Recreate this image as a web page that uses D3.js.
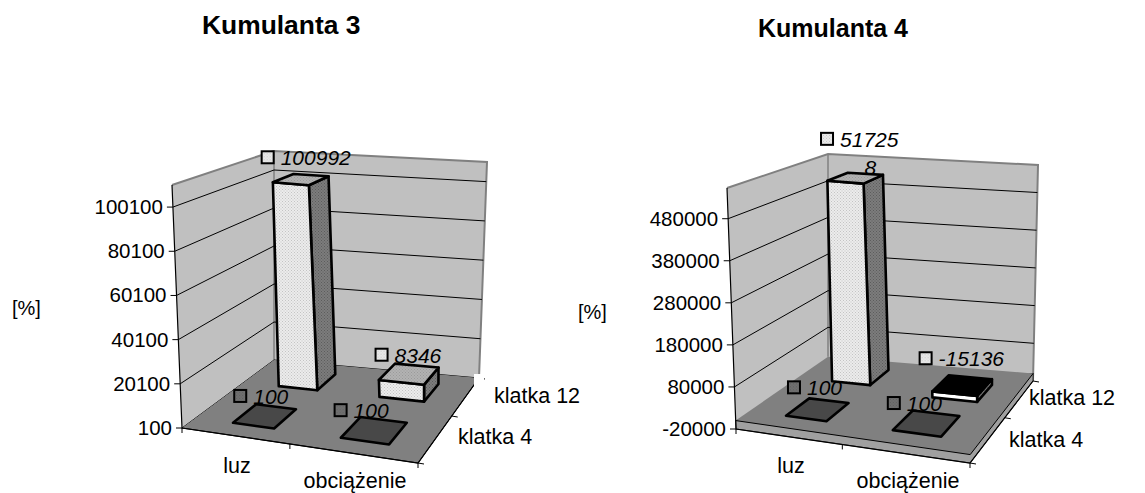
<!DOCTYPE html>
<html>
<head>
<meta charset="utf-8">
<script src="https://cdn.jsdelivr.net/npm/d3@7"></script>
<style>
    html, body { margin: 0; padding: 0; background: #fff; }
    text { font-family: "Liberation Sans", Arial, sans-serif; fill: #000; }
</style>
</head>
<body>
<svg id="plot" width="1145" height="493"></svg>
<script>
// values
var categories = ['luz', 'obciążenie'];
var rows = ['klatka 4', 'klatka 12'];

var k3Ticks = [100, 20100, 40100, 60100, 80100, 100100];
var k3Klatka4 = [100, 100];
var k3Klatka12 = [100992, 8346];

var k4Ticks = [-20000, 80000, 180000, 280000, 380000, 480000];
var k4Klatka4 = [100, 100];
var k4Klatka12 = [517258, -15136];

var svg = d3.select('#plot');

// dotted fills of the bars
var defs = svg.append('defs');
function addPattern(id, bg, dot) {
    var p = defs.append('pattern').attr('id', id)
        .attr('width', 3).attr('height', 3).attr('patternUnits', 'userSpaceOnUse');
    p.append('rect').attr('width', 3).attr('height', 3).attr('fill', bg);
    p.append('rect').attr('width', 1).attr('height', 1).attr('fill', dot);
    p.append('rect').attr('x', 1.5).attr('y', 1.5).attr('width', 1).attr('height', 1).attr('fill', dot);
}
addPattern('lightDots', '#ececec', '#c4c4c4');
addPattern('sideDots', '#7c7c7c', '#5c5c5c');
addPattern('topDots', '#b2b2b2', '#9a9a9a');
addPattern('greyDots', '#707070', '#5e5e5e');

// square -> quad mapping, corners go front-left, front-right, back-right, back-left
function homography(q) {
    var dx1 = q[1][0] - q[2][0], dx2 = q[3][0] - q[2][0], sx = q[0][0] - q[1][0] + q[2][0] - q[3][0];
    var dy1 = q[1][1] - q[2][1], dy2 = q[3][1] - q[2][1], sy = q[0][1] - q[1][1] + q[2][1] - q[3][1];
    var den = dx1 * dy2 - dx2 * dy1;
    var g = (sx * dy2 - dx2 * sy) / den;
    var h = (dx1 * sy - sx * dy1) / den;
    var a = q[1][0] - q[0][0] + g * q[1][0], b = q[3][0] - q[0][0] + h * q[3][0];
    var d = q[1][1] - q[0][1] + g * q[1][1], e = q[3][1] - q[0][1] + h * q[3][1];
    return function (u, v) {
        var w = g * u + h * v + 1;
        return [(a * u + b * v + q[0][0]) / w, (d * u + e * v + q[0][1]) / w];
    };
}

function quad(pts) {
    return 'M' + pts.map(function (p) { return p[0] + ',' + p[1]; }).join('L') + 'Z';
}

function drawChart(o) {
    var g = svg.append('g');
    var bottom = homography(o.bottom), top = homography(o.top);

    var zScale = d3.scaleLinear().domain(o.domain).range([0, 1]);
    var xScale = d3.scaleBand().domain(categories).range([0.04, 1]).paddingInner(0.6).paddingOuter(0.3);
    var yScale = d3.scaleBand().domain(rows).range([0, 1]).paddingInner(0.52).paddingOuter(0.26);

    // x, depth in 0..1, value on the y axis
    function project(u, v, value) {
        var t = zScale(value), a = bottom(u, v), b = top(u, v);
        return [a[0] + (b[0] - a[0]) * t, a[1] + (b[1] - a[1]) * t];
    }

    var zMin = o.domain[0], zMax = o.domain[1], floor = o.floor;

    // walls
    g.append('path').attr('d', quad([project(0, 0, zMin), project(0, 0, zMax), project(0, 1, zMax), project(0, 1, zMin)]))
        .attr('fill', '#c0c0c0');
    g.append('path').attr('d', quad([project(0, 1, zMin), project(0, 1, zMax), project(1, 1, zMax), project(1, 1, zMin)]))
        .attr('fill', '#c0c0c0');
    g.append('path').attr('d', d3.line()([project(0, 0, zMax), project(0, 1, zMax), project(1, 1, zMax), project(1, 1, zMin)]))
        .attr('fill', 'none').attr('stroke', '#808080').attr('stroke-width', 2);
    g.append('path').attr('d', d3.line()([project(0, 1, zMax), project(0, 1, floor)]))
        .attr('fill', 'none').attr('stroke', '#808080').attr('stroke-width', 1.5);

    // gridlines and value axis
    o.ticks.forEach(function (t) {
        g.append('path').attr('d', d3.line()([project(0, 0, t), project(0, 1, t), project(1, 1, t)]))
            .attr('fill', 'none').attr('stroke', '#000').attr('stroke-width', 1);
        var p = project(0, 0, t);
        g.append('line').attr('x1', p[0] - 6).attr('x2', p[0]).attr('y1', p[1]).attr('y2', p[1])
            .attr('stroke', '#000');
        g.append('text').attr('x', p[0] - 10).attr('y', p[1] + 7).attr('text-anchor', 'end')
            .attr('font-size', 20.5).text(t);
    });

    // floor plate
    if (floor > zMin) {
        g.append('path').attr('d', quad([project(0, 0, zMin), project(1, 0, zMin), project(1, 1, zMin), project(1, 1, floor), project(0, 0, floor)]))
            .attr('fill', '#a0a0a0').attr('stroke', '#000').attr('stroke-width', 0.8);
    }
    g.append('path').attr('d', quad([project(0, 0, floor), project(1, 0, floor), project(1, 1, floor), project(0, 1, floor)]))
        .attr('fill', '#808080');
    g.append('path').attr('d', d3.line()([project(0, 0, floor), project(1, 0, floor), project(1, 1, floor)]))
        .attr('fill', 'none').attr('stroke', '#000').attr('stroke-width', 1);

    // axes along the floor
    g.append('path').attr('d', d3.line()([project(0, 0, zMax), project(0, 0, zMin), project(1, 0, zMin), project(1, 1, zMin)]))
        .attr('fill', 'none').attr('stroke', '#000').attr('stroke-width', 1.2);
    [0, 0.5, 1].forEach(function (u) {
        var p = project(u, 0, zMin);
        g.append('line').attr('x1', p[0]).attr('x2', p[0]).attr('y1', p[1]).attr('y2', p[1] + 5).attr('stroke', '#000');
    });
    [0, 0.5, 1].forEach(function (v) {
        var p = project(1, v, zMin);
        g.append('line').attr('x1', p[0]).attr('x2', p[0] + 6).attr('y1', p[1]).attr('y2', p[1] + 1).attr('stroke', '#000');
    });

    // bars, back row first
    var series = [o.values[1], o.values[0]];
    var rowNames = [rows[1], rows[0]];
    var labels = [];
    series.forEach(function (vals, r) {
        vals.forEach(function (value, c) {
            var u0 = xScale(categories[c]), u1 = u0 + xScale.bandwidth();
            var v0 = yScale(rowNames[r]), v1 = v0 + yScale.bandwidth();
            var negative = value < floor;
            var hi = negative ? floor : value, lo = negative ? value : floor;
            var flat = value === 100;
            var bar = g.append('g').attr('stroke', '#000').attr('stroke-width', 2.6).attr('stroke-linejoin', 'round');
            if (!flat) {
                bar.append('path').attr('d', quad([project(u1, v0, lo), project(u1, v1, lo), project(u1, v1, hi), project(u1, v0, hi)]))
                    .attr('fill', 'url(#sideDots)');
                bar.append('path').attr('d', quad([project(u0, v0, lo), project(u1, v0, lo), project(u1, v0, hi), project(u0, v0, hi)]))
                    .attr('fill', negative ? '#fff' : 'url(#lightDots)');
            }
            bar.append('path').attr('d', quad([project(u0, v0, hi), project(u1, v0, hi), project(u1, v1, hi), project(u0, v1, hi)]))
                .attr('fill', flat ? '#484848' : (negative ? '#000' : 'url(#topDots)'));
            labels.push({value: value, c: c, r: r, at: project((u0 + u1) / 2, (v0 + v1) / 2, hi), dark: flat});
        });
    });

    // data labels: square key + italic value, centred above the bar
    labels.forEach(function (d) {
        var nudge = o.nudge[d.r][d.c];
        var s = String(d.value);
        var first = o.wrapAt && d.value > 0 && s.length > o.wrapAt ? s.slice(0, o.wrapAt) : s;
        var rest = s.slice(first.length);
        var lab = g.append('g');
        var txt = lab.append('text').attr('x', 20).attr('y', 0).attr('font-size', 21)
            .attr('font-style', 'italic').text(first);
        var w = 20 + txt.node().getComputedTextLength();
        lab.append('rect').attr('x', 1).attr('y', -14).attr('width', 12).attr('height', 12)
            .attr('fill', d.dark ? 'url(#greyDots)' : 'url(#lightDots)').attr('stroke', '#000').attr('stroke-width', 2);
        var x = d.at[0] - w / 2 + nudge[0], y = d.at[1] - 13 + nudge[1];
        lab.attr('transform', 'translate(' + x + ',' + y + ')');
        if (rest) {
            g.append('text').attr('x', x + w / 2 + 11).attr('y', y + 28).attr('text-anchor', 'middle')
                .attr('font-size', 21).attr('font-style', 'italic').text(rest);
        }
    });

    // title, axis names, white box behind the row labels
    g.append('text').attr('x', o.title[0]).attr('y', o.title[1]).attr('font-size', o.title[2])
        .attr('font-weight', 'bold').text(o.name);
    g.append('text').attr('x', o.unit[0]).attr('y', o.unit[1]).attr('font-size', 20).text('[%]');
    if (o.clip) {
        g.append('rect').attr('x', o.clip[0]).attr('y', o.clip[1]).attr('width', o.clip[2]).attr('height', o.clip[3]).attr('fill', '#fff');
    }
    categories.forEach(function (c, i) {
        g.append('text').attr('x', o.catX[i]).attr('y', o.catY[i]).attr('text-anchor', 'middle')
            .attr('font-size', 21.5).text(c);
    });
    rows.forEach(function (c, i) {
        g.append('text').attr('x', o.rowX[i]).attr('y', o.rowY[i]).attr('font-size', 21.5).text(c);
    });
}

// nudge: label shifts, back row first
drawChart({
    name: 'Kumulanta 3', title: [202, 34, 26.4], unit: [12, 315],
    domain: [100, 110100], floor: 100, ticks: k3Ticks,
    values: [k3Klatka4, k3Klatka12],
    bottom: [[182, 428], [418, 463], [479, 378], [274, 360]],
    top: [[172, 185], [424, 222], [487, 162], [274, 151]],
    nudge: [[[5, -1], [-1, 2]], [[-4, 1], [-13, 1]]],
    clip: [474, 374, 10, 20],
    catX: [237, 355], catY: [473, 488],
    rowX: [458, 494], rowY: [444, 403]
});

drawChart({
    name: 'Kumulanta 4', title: [758, 37, 25], unit: [578, 319],
    domain: [-20000, 553000], floor: 0, ticks: k4Ticks,
    values: [k4Klatka4, k4Klatka12],
    bottom: [[736, 429], [970, 463], [1033, 381], [828, 364]],
    top: [[727, 188], [976, 222], [1038, 165], [828, 154]],
    nudge: [[[4, -18], [-1, -6]], [[-3, -1], [-12, 1]]],
    wrapAt: 5,
    catX: [791, 908], catY: [473, 488],
    rowX: [1009, 1029], rowY: [447, 405]
});
</script>
</body>
</html>
